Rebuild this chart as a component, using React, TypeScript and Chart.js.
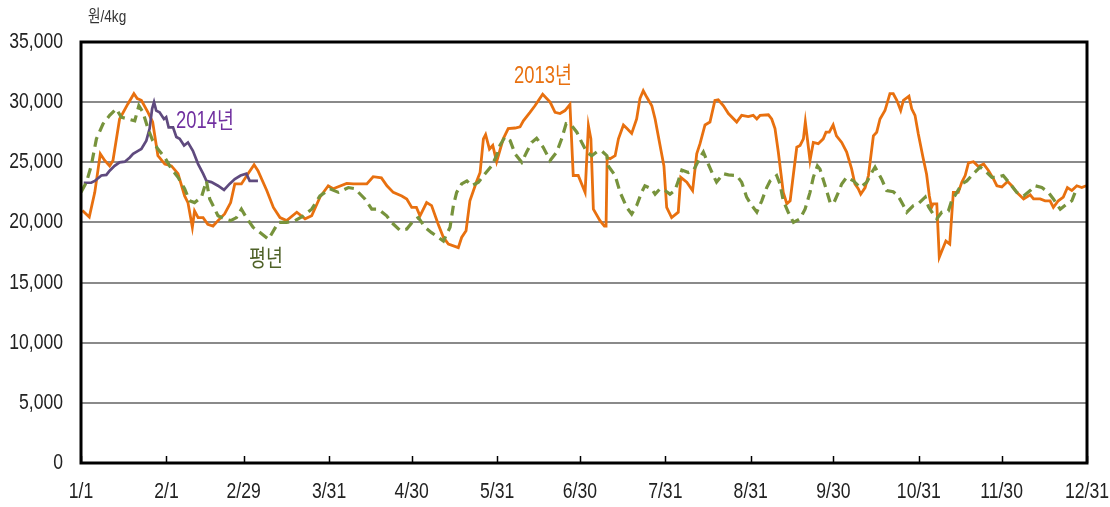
import React, { useEffect, useRef } from "react";
import { Chart, registerables } from "chart.js";

Chart.register(...registerables);

// ---- DATA ----
const tickDays = [0, 31, 59, 90, 120, 151, 181, 212, 243, 273, 304, 334, 365];
const tickLabels = ["1/1", "2/1", "2/29", "3/31", "4/30", "5/31", "6/30", "7/31", "8/31", "9/30", "10/31", "11/30", "12/31"];

const days2013 = [0.5, 3, 5, 7, 8.6, 10.4, 11.6, 14, 17, 19.2, 20.4, 21.9, 24.3, 26, 27.9, 30.4, 32.8, 35.2, 37.6, 38.8, 40.4, 41.2, 42.5, 44.3, 46, 47.9, 49.7, 52.1, 54.3, 55.8, 58.2, 60.6, 62.8, 64.2, 67.4, 69.8, 72.2, 74.6, 78.3, 81.3, 83.7, 86.7, 89.7, 91.5, 96.4, 98.8, 103.7, 106, 109, 111, 113.3, 116.4, 118.2, 120, 121.7, 123, 125.4, 127.2, 129.6, 131.5, 133.3, 136.9, 138.1, 139.7, 141.1, 143.6, 144.8, 146, 146.8, 148.2, 149.4, 150.8, 153.2, 155, 157.5, 159.3, 160.5, 162.9, 164.7, 167.5, 170.2, 172, 173.8, 175.6, 177.4, 178.6, 180.4, 182.9, 184.1, 185, 185.9, 188.3, 189.9, 190.5, 190.9, 192, 193.8, 195, 196.8, 198.1, 199.8, 201.6, 202.8, 204, 205.3, 207.1, 208.3, 210.1, 211.5, 212.5, 214.3, 216.7, 217.6, 219.8, 221.9, 223.4, 224.6, 226.4, 228.2, 230, 231.2, 233.1, 234.9, 237.9, 239.7, 242.1, 243.9, 245.2, 246.4, 249.4, 250.6, 251.8, 253, 254.8, 256.1, 257.3, 258.5, 259.7, 260.9, 262.1, 262.8, 264.5, 265.7, 267.5, 269.3, 270.3, 271.5, 272.9, 274.1, 276, 277.8, 279.6, 280.8, 282, 282.9, 284.5, 285.7, 287.5, 288.7, 289.9, 291.7, 293.5, 294.7, 296, 297.4, 298.4, 300.4, 301.4, 302.6, 303.8, 305.6, 306.8, 307.8, 308.6, 309.2, 310.5, 311.4, 312.8, 313.8, 315.2, 316.5, 318.3, 319.6, 320.8, 322, 323.8, 325.6, 327.5, 329.3, 331.1, 332.3, 334.1, 336.2, 337.7, 339.5, 342, 344.4, 345.6, 348, 349.8, 351.6, 352.8, 354.6, 356.4, 357.9, 359.5, 361.3, 363.1, 364.7];
const values2013 = [21000, 20450, 22500, 25700, 25150, 24700, 25150, 28600, 29850, 30700, 30300, 30150, 29150, 28350, 25550, 24850, 24700, 24050, 22200, 21650, 19600, 20950, 20400, 20400, 19850, 19700, 20150, 20700, 21650, 23200, 23200, 24050, 24800, 24300, 22650, 21250, 20400, 20150, 20850, 20300, 20550, 22100, 23050, 22800, 23250, 23200, 23200, 23800, 23700, 23050, 22500, 22200, 21950, 21250, 21250, 20550, 21650, 21400, 19850, 18750, 18200, 17900, 18750, 19300, 21800, 23450, 24150, 26950, 27300, 26100, 26400, 25050, 26950, 27800, 27850, 27950, 28450, 29150, 29700, 30650, 30000, 29150, 29050, 29300, 29800, 23900, 23900, 22500, 28050, 26950, 21100, 20150, 19700, 19700, 25400, 25300, 25550, 26950, 28100, 27800, 27400, 28600, 30300, 30950, 30400, 29700, 28600, 26400, 24700, 21250, 20400, 20850, 23750, 23350, 22650, 25700, 26550, 28100, 28350, 30150, 30200, 29700, 29050, 28350, 28900, 28800, 28900, 28600, 28900, 28950, 28600, 27800, 25850, 22500, 21550, 21800, 24050, 26250, 26400, 26950, 28350, 25150, 26650, 26550, 26950, 27500, 27500, 28100, 27200, 26650, 25850, 24450, 23200, 22800, 22350, 22900, 23900, 27200, 27500, 28600, 29300, 30700, 30700, 30150, 29300, 30150, 30500, 29450, 28900, 27350, 25300, 24000, 22200, 21250, 21550, 21550, 17100, 17900, 18450, 18200, 22500, 22500, 23350, 23900, 24950, 25050, 24650, 24850, 24300, 23600, 23050, 22950, 23400, 23050, 22500, 21950, 22300, 21950, 21950, 21800, 21800, 21250, 21800, 22100, 22900, 22650, 23050, 22900, 23050];

const days2014 = [1, 3.7, 5, 7.4, 9.2, 10.4, 12.2, 14, 15.9, 17.7, 18.9, 20.7, 21.9, 23.7, 24.9, 25.8, 26.5, 27.3, 28.5, 30.1, 30.9, 31.8, 33.4, 34.6, 35.8, 37.4, 38.8, 40.6, 42.5, 44.3, 45.5, 47.3, 49.7, 51.9, 53.9, 55.8, 57.9, 60, 61.2, 64.2];
const values2014 = [23300, 23300, 23450, 23900, 23950, 24300, 24700, 25000, 25050, 25400, 25700, 25950, 26100, 26800, 27800, 29450, 30000, 29300, 29150, 28600, 28750, 27900, 27900, 27100, 26950, 26400, 26650, 25950, 24850, 24050, 23450, 23350, 23050, 22700, 23200, 23600, 23900, 24050, 23450, 23450];

const daysAvg = [0, 2, 3.7, 5.6, 8, 10.4, 12.8, 14.6, 17, 19.5, 21, 22.5, 24.3, 26, 27.9, 30.4, 32.8, 35.2, 37.6, 39.4, 41.2, 43.7, 45.5, 46.7, 47.9, 49.7, 52.1, 54.3, 56.4, 58.2, 60, 62.4, 64.2, 68, 71.6, 74.6, 77.6, 80.7, 83.7, 86.7, 90.3, 93.4, 97, 99.4, 103, 105.5, 107.9, 110.9, 112.7, 115.7, 118.2, 120.6, 122.4, 124.8, 127.2, 129.7, 131.5, 133.9, 135.1, 136.3, 138.1, 140, 141.8, 144.2, 146.6, 149, 150.8, 152, 153.8, 155.7, 157.5, 159.9, 161.7, 163.5, 165.3, 167.7, 170.2, 172.6, 174.4, 176, 178, 179.9, 181.7, 183.5, 185.3, 187.1, 188.9, 190.8, 191.3, 193.8, 195.6, 198, 199.8, 201.6, 203.4, 204.6, 207, 208.3, 210.1, 211.9, 213.7, 215.5, 216.7, 218, 220.4, 222.2, 224.6, 225.8, 227.6, 229.4, 230.6, 233.1, 234.9, 237.9, 239.7, 241.5, 243.4, 245.2, 247, 248.8, 250, 252.4, 253.6, 254.8, 256.6, 258.5, 260.9, 262.7, 264.5, 265.7, 267.2, 268.1, 270, 271.8, 273, 274.8, 276, 277.8, 280.3, 282.7, 285.1, 286.9, 288.1, 290.5, 292.3, 294.7, 296.5, 298.4, 299.6, 302, 303.8, 306.3, 307.5, 309.2, 310.5, 312.3, 314.7, 315.9, 317.8, 319.6, 321.4, 323.8, 326.2, 328, 330.5, 332.3, 334.6, 337.1, 339.5, 342, 344.4, 346.2, 348.6, 351, 352.8, 355.3, 357.7, 359.5, 360.7, 361.5];
const valuesAvg = [22500, 23350, 24700, 26950, 28200, 28900, 29450, 28750, 28600, 28450, 29700, 29150, 27800, 26800, 26100, 25400, 24450, 23750, 22800, 21800, 21650, 22100, 23450, 21950, 21400, 20550, 20300, 20150, 20400, 21100, 20400, 19600, 19300, 18600, 20000, 20000, 20150, 20550, 21100, 22200, 22800, 22500, 22900, 22800, 21950, 21100, 21100, 20550, 20000, 19350, 19450, 20150, 20400, 19600, 19150, 18750, 18450, 19600, 21400, 22500, 23200, 23450, 23050, 23350, 24050, 24700, 25550, 26400, 27100, 26800, 25700, 25000, 25850, 26650, 27000, 26250, 25150, 25850, 26950, 28200, 28050, 27500, 26650, 25850, 25550, 25850, 25950, 25550, 24700, 23900, 22500, 21250, 20700, 21400, 22500, 23050, 22800, 22350, 22800, 22650, 22350, 22650, 23450, 24350, 24150, 24300, 25400, 25850, 24850, 23900, 23350, 24050, 23950, 23900, 23350, 22100, 21400, 20850, 21800, 22900, 23450, 23900, 23200, 21800, 20850, 20000, 20300, 21100, 22500, 23750, 24700, 24450, 23050, 21650, 21550, 22500, 23200, 23750, 23450, 22900, 23350, 24150, 24600, 23600, 22650, 22550, 22200, 21400, 20850, 21400, 21550, 22100, 21300, 20700, 20300, 20850, 20950, 21800, 22500, 23200, 23450, 24050, 24600, 24300, 23750, 23750, 23900, 23200, 22500, 22200, 22650, 23050, 22900, 22500, 21950, 21100, 21550, 21800, 22500, 22900];

const seriesNames = ["2013년", "2014년", "평년"];
const seriesColors = ["#E8700F", "#5F4A7E", "#77933C"];
const labelColors = ["#E8700F", "#7030A0", "#4F6228"];
const labelDays = [167.6, 45, 67.1];
const labelValues = [32100, 28350, 16900];
const unitLabel = "원/4kg";

const FONT = '"Liberation Sans", Arial, "Noto Sans CJK KR", sans-serif';
const SQUEEZE = 0.8;

const toPoints = (xs: number[], ys: number[]) => xs.map((x, i) => ({ x, y: ys[i] }));

function narrowText(ctx: CanvasRenderingContext2D, text: string, x: number, y: number, align: CanvasTextAlign) {
  ctx.save();
  ctx.translate(x, y);
  ctx.scale(SQUEEZE, 1);
  ctx.textAlign = align;
  ctx.textBaseline = "middle";
  ctx.fillText(text, 0, 0);
  ctx.restore();
}

export default function App() {
  const ref = useRef<HTMLCanvasElement | null>(null);

  useEffect(() => {
    if (!ref.current) return;

    const framePlugin = {
      id: "frame",
      afterDraw(chart: any) {
        const { ctx, chartArea } = chart;
        const xs = chart.scales.x;
        const ys = chart.scales.y;
        ctx.save();
        // inner ticks on x axis
        ctx.strokeStyle = "#000";
        ctx.lineWidth = 1.5;
        tickDays.forEach((d) => {
          const px = Math.round(xs.getPixelForValue(d)) + 0.5;
          ctx.beginPath();
          ctx.moveTo(px, chartArea.bottom);
          ctx.lineTo(px, chartArea.bottom - 7);
          ctx.stroke();
        });
        // frame
        ctx.lineWidth = 3;
        ctx.strokeRect(chartArea.left, chartArea.top, chartArea.right - chartArea.left, chartArea.bottom - chartArea.top);

        // tick labels (condensed)
        ctx.fillStyle = "#222";
        ctx.font = "22px " + FONT;
        ys.ticks.forEach((t: any) => {
          narrowText(ctx, Number(t.value).toLocaleString("en-US"), chartArea.left - 18, ys.getPixelForValue(t.value), "right");
        });
        xs.ticks.forEach((t: any) => {
          const i = tickDays.indexOf(Number(t.value));
          if (i < 0) return;
          narrowText(ctx, tickLabels[i], xs.getPixelForValue(t.value), chartArea.bottom + 29, "center");
        });

        // unit label
        ctx.fillStyle = "#333";
        ctx.font = "17px " + FONT;
        narrowText(ctx, unitLabel, chartArea.left + 7, 17, "left");

        // series labels
        ctx.font = "23px " + FONT;
        seriesNames.forEach((n, i) => {
          ctx.fillStyle = labelColors[i];
          narrowText(ctx, n, xs.getPixelForValue(labelDays[i]), ys.getPixelForValue(labelValues[i]), "center");
        });
        ctx.restore();
      },
    };

    const chart = new Chart(ref.current, {
      type: "line",
      data: {
        datasets: [
          {
            label: seriesNames[2],
            data: toPoints(daysAvg, valuesAvg),
            borderColor: seriesColors[2],
            borderWidth: 3.2,
            borderDash: [10, 6],
            pointRadius: 0,
            tension: 0,
          },
          {
            label: seriesNames[1],
            data: toPoints(days2014, values2014),
            borderColor: seriesColors[1],
            borderWidth: 2.7,
            pointRadius: 0,
            tension: 0,
          },
          {
            label: seriesNames[0],
            data: toPoints(days2013, values2013),
            borderColor: seriesColors[0],
            borderWidth: 2.8,
            pointRadius: 0,
            tension: 0,
          },
        ],
      },
      options: {
        animation: false,
        responsive: false,
        devicePixelRatio: 1,
        layout: { padding: { top: 42, right: 23, left: 0, bottom: 0 } },
        plugins: { legend: { display: false }, tooltip: { enabled: false } },
        scales: {
          x: {
            type: "linear",
            min: 0,
            max: 365,
            grid: { display: false, drawTicks: false },
            border: { display: false },
            afterBuildTicks: (scale: any) => {
              scale.ticks = tickDays.map((v) => ({ value: v }));
            },
            afterFit: (scale: any) => {
              scale.height = 44;
              scale.paddingLeft = 0;
              scale.paddingRight = 0;
            },
            ticks: { display: false, autoSkip: false },
          },
          y: {
            min: 0,
            max: 35000,
            grid: { color: "#8a8a8a", lineWidth: 2, drawTicks: false },
            border: { display: false },
            afterFit: (scale: any) => {
              scale.width = 81;
              scale.paddingTop = 0;
              scale.paddingBottom = 0;
            },
            ticks: { display: false, stepSize: 5000 },
          },
        },
      },
      plugins: [framePlugin],
    } as any);

    return () => chart.destroy();
  }, []);

  return (
    <div style={{ position: "fixed", left: 0, top: 0, width: 1110, height: 507, background: "#fff" }}>
      <canvas ref={ref} width={1110} height={507} />
    </div>
  );
}
